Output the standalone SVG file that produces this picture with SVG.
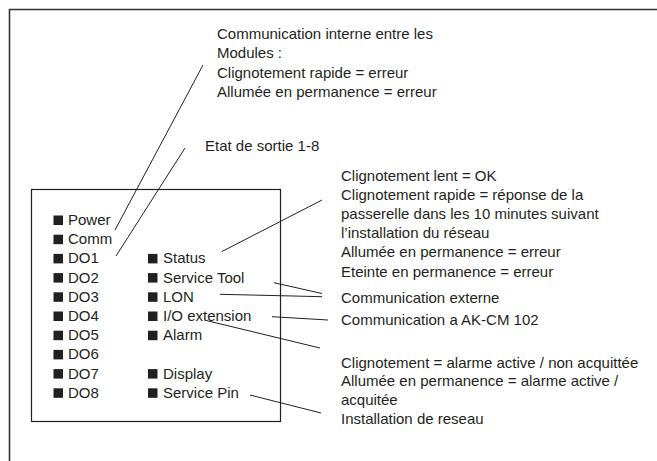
<svg xmlns="http://www.w3.org/2000/svg" width="657" height="461" viewBox="0 0 657 461">
<style>
text{font-family:"Liberation Sans",Arial,sans-serif;font-size:15px;fill:#231f20}
.sq{fill:#231f20}
.ln{stroke:#231f20;stroke-width:1;fill:none}
</style>
<defs><rect id="led" width="9.5" height="9.5"/></defs>
<rect width="657" height="461" fill="#fff"/>
<path id="frame" d="M9.5 461V9.5H657" stroke="#333" stroke-width="1.6" fill="none"/>
<g id="module">
<rect x="31.5" y="189.5" width="249" height="232" fill="none" stroke="#231f20" stroke-width="1.2"/>
</g>
<g id="leds-left">
<g id="led-power"><use href="#led" class="sq" x="53.5" y="215.5"/><text x="68" y="225">Power</text></g>
<g id="led-comm"><use href="#led" class="sq" x="53.5" y="234.7"/><text x="68" y="244.2">Comm</text></g>
<g id="led-do1"><use href="#led" class="sq" x="53.5" y="253.9"/><text x="68" y="263.4">DO1</text></g>
<g id="led-do2"><use href="#led" class="sq" x="53.5" y="273.1"/><text x="68" y="282.6">DO2</text></g>
<g id="led-do3"><use href="#led" class="sq" x="53.5" y="292.3"/><text x="68" y="301.8">DO3</text></g>
<g id="led-do4"><use href="#led" class="sq" x="53.5" y="311.5"/><text x="68" y="321">DO4</text></g>
<g id="led-do5"><use href="#led" class="sq" x="53.5" y="330.7"/><text x="68" y="340.2">DO5</text></g>
<g id="led-do6"><use href="#led" class="sq" x="53.5" y="349.9"/><text x="68" y="359.4">DO6</text></g>
<g id="led-do7"><use href="#led" class="sq" x="53.5" y="369.1"/><text x="68" y="378.6">DO7</text></g>
<g id="led-do8"><use href="#led" class="sq" x="53.5" y="388.3"/><text x="68" y="397.8">DO8</text></g>
</g>
<g id="leds-right">
<g id="led-status"><use href="#led" class="sq" x="148" y="253.9"/><text x="163" y="263.4">Status</text></g>
<g id="led-servicetool"><use href="#led" class="sq" x="148" y="273.1"/><text x="163" y="282.6">Service Tool</text></g>
<g id="led-lon"><use href="#led" class="sq" x="148" y="292.3"/><text x="163" y="301.8">LON</text></g>
<g id="led-io"><use href="#led" class="sq" x="148" y="311.5"/><text x="163" y="321">I/O extension</text></g>
<g id="led-alarm"><use href="#led" class="sq" x="148" y="330.7"/><text x="163" y="340.2">Alarm</text></g>
<g id="led-display"><use href="#led" class="sq" x="148" y="369.1"/><text x="163" y="378.6">Display</text></g>
<g id="led-servicepin"><use href="#led" class="sq" x="148" y="388.3"/><text x="163" y="397.8">Service Pin</text></g>
</g>
<g id="note-comm-interne">
<text x="217" y="38.5">Communication interne entre les</text>
<text x="217" y="58">Modules :</text>
<text x="217" y="77.5">Clignotement rapide = erreur</text>
<text x="217" y="97">Allumée en permanence = erreur</text>
</g>
<g id="note-etat"><text x="205" y="150.5">Etat de sortie 1-8</text></g>
<g id="note-status">
<text x="341" y="180.5">Clignotement lent = OK</text>
<text x="341" y="199.7">Clignotement rapide = réponse de la</text>
<text x="341" y="218.9">passerelle dans les 10 minutes suivant</text>
<text x="341" y="238.1">l’installation du réseau</text>
<text x="341" y="257.3">Allumée en permanence = erreur</text>
<text x="341" y="276.5">Eteinte en permanence = erreur</text>
</g>
<g id="note-comm-externe"><text x="341" y="302.5">Communication externe</text></g>
<g id="note-akcm"><text x="341" y="324.5">Communication a AK-CM 102</text></g>
<g id="note-alarm">
<text x="341" y="367.5">Clignotement = alarme active / non acquittée</text>
<text x="341" y="386">Allumée en permanence = alarme active /</text>
<text x="341" y="404.5">acquitée</text>
</g>
<g id="note-install"><text x="341" y="423.5">Installation de reseau</text></g>
<g id="connectors" class="ln">
<line x1="203" y1="65" x2="115" y2="230"/>
<line x1="185" y1="148" x2="116" y2="256"/>
<line x1="222" y1="251.5" x2="322" y2="200"/>
<line x1="274" y1="282.7" x2="322" y2="293.5"/>
<line x1="220" y1="294.3" x2="322" y2="296.7"/>
<line x1="272" y1="316.7" x2="328" y2="320"/>
<line x1="207" y1="320.7" x2="320" y2="348"/>
<line x1="250" y1="395" x2="321" y2="413"/>
</g>
</svg>
